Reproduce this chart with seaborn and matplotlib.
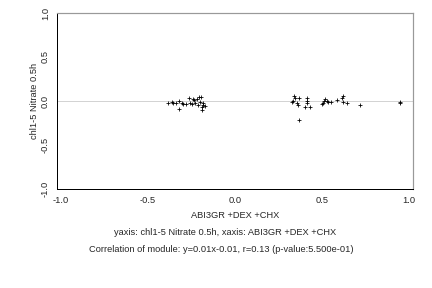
import numpy as np
import matplotlib
matplotlib.use("Agg")
import matplotlib.pyplot as plt
import seaborn as sns

# module genes: x = ABI3GR +DEX +CHX, y = chl1-5 Nitrate 0.5h
x_vals = [-0.383, -0.364, -0.355, -0.339, -0.320, -0.320, -0.306, -0.297, -0.282,
          -0.263, -0.259, -0.249, -0.243, -0.234, -0.230, -0.220, -0.215, -0.205,
          -0.201, -0.195, -0.191, -0.186, -0.182, -0.188, -0.172,
          0.326, 0.335, 0.341, 0.345, 0.355, 0.364, 0.370, 0.370, 0.402, 0.412,
          0.412, 0.416, 0.431, 0.498, 0.504, 0.511, 0.517, 0.527, 0.536, 0.550,
          0.584, 0.613, 0.619, 0.622, 0.645, 0.718, 0.948, 0.948]
y_vals = [-0.019, -0.008, -0.026, -0.026, 0.003, -0.091, -0.026, -0.034, -0.034,
          0.031, -0.019, -0.034, 0.019, 0.011, -0.026, 0.019, -0.045, 0.042,
          -0.008, 0.049, -0.065, -0.019, -0.045, -0.102, -0.057,
          -0.008, 0.003, 0.057, 0.031, -0.019, -0.045, 0.031, -0.216, -0.065, 0.031,
          0.003, -0.019, -0.068, -0.034, -0.019, 0.003, 0.019, 0.003, -0.008, -0.008,
          0.011, 0.031, 0.057, -0.008, -0.026, -0.045, -0.026, -0.008]
ticks = [-1.0, -0.5, 0.0, 0.5, 1.0]
tick_labels = ["-1.0", "-0.5", "0.0", "0.5", "1.0"]

x_name = "ABI3GR +DEX +CHX"
y_name = "chl1-5 Nitrate 0.5h"
fit_text = "Correlation of module: y=0.01x-0.01, r=0.13 (p-value:5.500e-01)"

sns.set_style("white")
plt.rcParams["font.family"] = ["Liberation Sans", "DejaVu Sans"]
fs = 9.2

fig = plt.figure(figsize=(6, 4), dpi=72)
ax = fig.add_axes([0.132, 0.344, 0.824, 0.611])

ax.axhline(0, color="#c8c8c8", lw=0.8, zorder=1)
sns.scatterplot(x=x_vals, y=y_vals, marker="+", color="black", s=22,
                linewidth=0.8, ax=ax, zorder=3)

ax.set_xlim(-1.023, 1.023)
ax.set_ylim(-1.0, 1.0)
ax.set_xticks(ticks)
ax.set_xticklabels(tick_labels, fontsize=fs)
ax.set_yticks(ticks)
ax.set_yticklabels(tick_labels, fontsize=fs, rotation=90, va="center")
ax.tick_params(axis="both", direction="out", length=3, width=0.6,
               color="#555555", pad=4)

for side in ["left", "bottom"]:
    ax.spines[side].set_color("black")
    ax.spines[side].set_linewidth(1.0)
for side in ["top", "right"]:
    ax.spines[side].set_color("#999999")
    ax.spines[side].set_linewidth(1.2)

ax.set_xlabel("")
ax.set_ylabel("")
fig.text(0.544, 0.253, x_name, ha="center", va="center", fontsize=fs)
fig.text(0.081, 0.65, y_name, ha="center", va="center", rotation=90, fontsize=fs)
fig.text(0.52, 0.194, "yaxis: " + y_name + ", xaxis: " + x_name,
         ha="center", va="center", fontsize=fs)
fig.text(0.512, 0.135, fit_text, ha="center", va="center", fontsize=fs)

fig.savefig("out.png", dpi=72)
